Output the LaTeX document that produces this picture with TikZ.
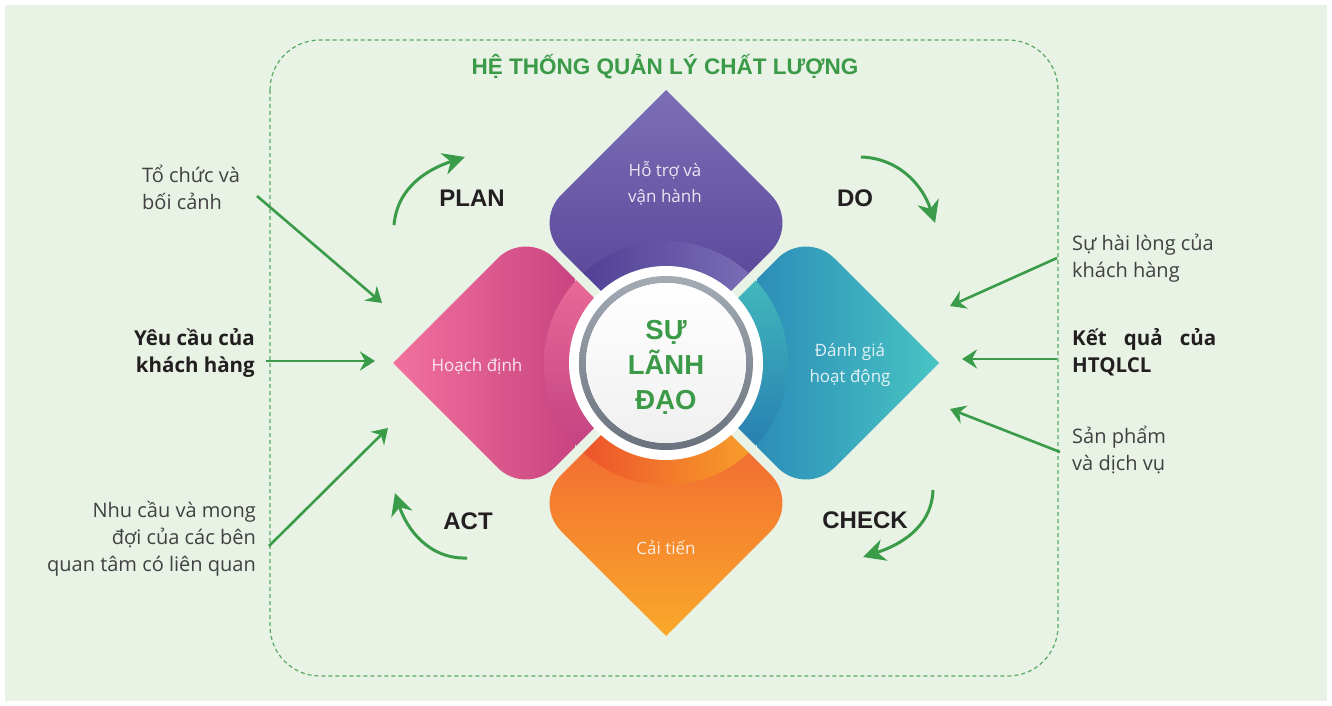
\documentclass[tikz,border=0pt]{standalone}
\usepackage{fontspec}
\setmainfont{Open Sans}
\newfontfamily\hel{Liberation Sans}
\usetikzlibrary{arrows.meta}
\definecolor{bg}{HTML}{E8F2E5}
\definecolor{grn}{HTML}{3A9B48}
\definecolor{ttl}{HTML}{3B9A47}
\definecolor{txt}{HTML}{414042}
\definecolor{blk}{HTML}{231F20}
\definecolor{puA}{HTML}{7C6FB6}
\definecolor{puB}{HTML}{5D4A9C}
\definecolor{puC}{HTML}{4B3A92}
\definecolor{puD}{HTML}{7F73B9}
\definecolor{piA}{HTML}{F2729E}
\definecolor{piB}{HTML}{C94480}
\definecolor{piC}{HTML}{F0719B}
\definecolor{piD}{HTML}{BC3B7E}
\definecolor{teA}{HTML}{2C8EB8}
\definecolor{teB}{HTML}{48C4C3}
\definecolor{teC}{HTML}{47C3BF}
\definecolor{teD}{HTML}{2274AE}
\definecolor{orA}{HTML}{F26F31}
\definecolor{orB}{HTML}{FAA92A}
\definecolor{orC}{HTML}{EB4A2B}
\definecolor{orD}{HTML}{F9A72A}
\definecolor{ringA}{HTML}{A3ABB4}
\definecolor{ringB}{HTML}{69727D}
\newcommand\petalshape{(0,273) -- (-104.72,168.28) arc[start angle=135,end angle=225,radius=40] -- (0,7) -- (104.72,111.72) arc[start angle=-45,end angle=45,radius=40] -- cycle}
\begin{document}
\begin{tikzpicture}[x=1pt,y=1pt,
  ptext/.style={text=white,opacity=0.85,font=\fontsize{17}{26}\selectfont,align=center,inner sep=0pt},
  pdca/.style={text=blk,font=\hel\bfseries\fontsize{24}{28}\selectfont,inner sep=0pt},
  lbl/.style={text=txt,font=\fontsize{20}{27}\selectfont,inner sep=0pt},
  lblb/.style={text=blk,font=\bfseries\fontsize{20.5}{27}\selectfont,inner sep=0pt},
  carrow/.style={draw=grn,line width=3pt,-{Stealth[length=22pt,width=22pt,inset=7pt]}},
  sarrow/.style={draw=grn,line width=2.6pt,-{Stealth[length=15pt,width=19pt,inset=5pt]}},
  frame/.style={draw=grn!85!white,line width=1.2pt,dash pattern=on 4pt off 3pt,rounded corners=50pt}]
\useasboundingbox (0,0) rectangle (1332,-706);
\fill[white] (0,0) rectangle (1332,-706);
\fill[bg] (5,-5) rectangle (1327,-701);
\draw[frame] (270,-40) rectangle (1058,-676);
\node[text=ttl,font=\hel\bfseries\fontsize{22.5}{26}\selectfont,inner sep=0pt] (title) at (665,-67) {HỆ THỐNG QUẢN LÝ CHẤT LƯỢNG};
% top petal
\begin{scope}
\clip[shift={(666,-363)}] \petalshape;
\shade[top color=puA,bottom color=puB] (540,-88) rectangle (792,-275);
\clip (666,-363) circle (122);
\shade[left color=puC,right color=puD] (560,-235) rectangle (772,-300);
\end{scope}
% left petal
\begin{scope}
\clip[shift={(666,-363)},rotate=90] \petalshape;
\shade[left color=piA,right color=piB] (392,-240) rectangle (575,-486);
\clip (666,-363) circle (122);
\shade[top color=piC,bottom color=piD] (540,-245) rectangle (600,-481);
\end{scope}
% right petal
\begin{scope}
\clip[shift={(666,-363)},rotate=-90] \petalshape;
\shade[left color=teA,right color=teB] (757,-240) rectangle (940,-486);
\clip (666,-363) circle (122);
\shade[top color=teC,bottom color=teD] (732,-245) rectangle (792,-481);
\end{scope}
% bottom petal
\begin{scope}
\clip[shift={(666,-363)},rotate=180] \petalshape;
\shade[top color=orA,bottom color=orB] (540,-452) rectangle (792,-637);
\clip (666,-363) circle (122);
\shade[left color=orC,right color=orD] (560,-425) rectangle (772,-490);
\end{scope}
% centre
\fill[white] (666,-363) circle (97);
\shade[even odd rule,top color=ringA,bottom color=ringB] (666,-363) circle (87) (666,-363) circle (80);
\shade[shading angle=45,top color=white,bottom color=black!6] (666,-363) circle (80);
\node[text=ttl,font=\hel\bfseries\fontsize{27.5}{35}\selectfont,align=center,inner sep=0pt] (lead) at (666,-367) {SỰ\\LÃNH\\ĐẠO};
% petal texts
\node[ptext] (p1) at (665,-183) {Hỗ trợ và\\vận hành};
\node[ptext] (p2) at (477,-366) {Hoạch định};
\node[ptext] (p3) at (850,-365) {Đánh giá\\hoạt động};
\node[ptext] (p4) at (666,-548) {Cải tiến};
% PDCA
\node[pdca] (plan) at (472,-198) {PLAN};
\node[pdca] (do) at (855,-198) {DO};
\node[pdca] (check) at (865,-520) {CHECK};
\node[pdca] (act) at (468,-521) {ACT};
\coordinate (pa1) at (394,-225); \coordinate (pa2) at (465,-157);
\coordinate (da1) at (861,-157); \coordinate (da2) at (935,-223);
\coordinate (ca1) at (933,-490); \coordinate (ca2) at (863,-557);
\coordinate (aa1) at (467,-558); \coordinate (aa2) at (395,-493);
\draw[carrow] (pa1) to[out=85,in=198] (pa2);
\draw[carrow] (da1) to[out=-2,in=108] (da2);
\draw[carrow] (ca1) to[out=-92,in=18] (ca2);
\draw[carrow] (aa1) to[out=182,in=288] (aa2);
% side labels
\node[lbl,anchor=west,align=left] (l1) at (142,-187) {Tổ chức và\\bối cảnh};
\node[lblb,anchor=east,align=right] (l2) at (255,-353) {Yêu cầu của\\khách hàng};
\node[lbl,anchor=east,align=right] (l3) at (256,-539) {Nhu cầu và mong\\đợi của các bên\\quan tâm có liên quan};
\node[lbl,anchor=west,align=left] (r1) at (1072,-258) {Sự hài lòng của\\khách hàng};
\node[lblb,anchor=west,align=left] (r2) at (1072,-352) {\makebox[144pt][s]{Kết quả của}\\HTQLCL};
\node[lbl,anchor=west,align=left] (r3) at (1072,-450) {Sản phẩm\\và dịch vụ};
% straight arrows
\coordinate (s1a) at (257,-196); \coordinate (s1b) at (382,-303);
\coordinate (s2a) at (266,-361); \coordinate (s2b) at (375,-361);
\coordinate (s3a) at (269,-546); \coordinate (s3b) at (388,-428);
\coordinate (t1a) at (1057,-258); \coordinate (t1b) at (950,-306);
\coordinate (t2a) at (1057,-359); \coordinate (t2b) at (962,-359);
\coordinate (t3a) at (1060,-452); \coordinate (t3b) at (950,-409);
\draw[sarrow] (s1a) -- (s1b);
\draw[sarrow] (s2a) -- (s2b);
\draw[sarrow] (s3a) -- (s3b);
\draw[sarrow] (t1a) -- (t1b);
\draw[sarrow] (t2a) -- (t2b);
\draw[sarrow] (t3a) -- (t3b);
\end{tikzpicture}
\end{document}
